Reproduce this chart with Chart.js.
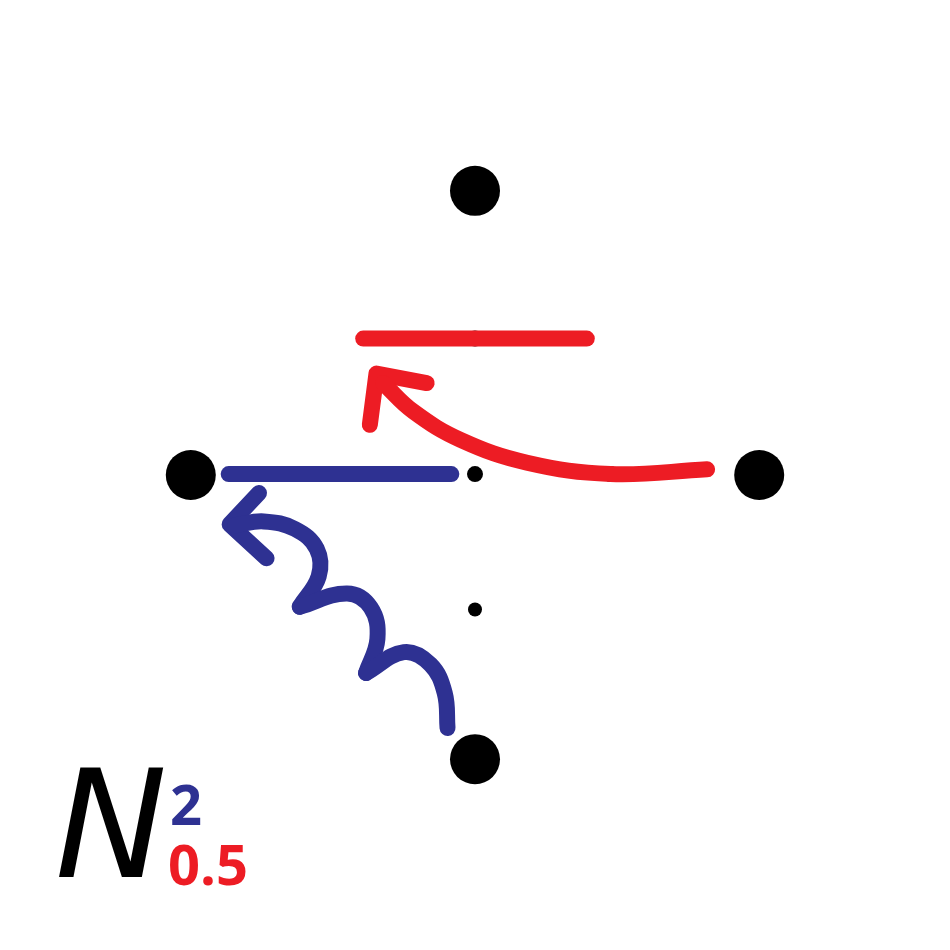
<!DOCTYPE html>
<html><head><meta charset="utf-8">
<script src="https://cdn.jsdelivr.net/npm/chart.js@4"></script>
<style>body{margin:0;background:#fff}</style>
</head><body>
<canvas id="c" width="950" height="950"></canvas>
<script>
const RED = "#ed1c24", BLUE = "#2e3192";
// diagram points in page-like units (0..950, y down)
const bigDots = [{x:475,y:175},{x:175,y:475},{x:775,y:475},{x:475,y:775}];
const midDots = [{x:475,y:331},{x:332,y:474},{x:475,y:474},{x:618,y:474}];
const smallDots = [{x:475,y:617}];
const redBar = [{x:357,y:331},{x:593,y:331}];
const blueBar = [{x:215,y:474},{x:450,y:474}];
const redCurve = [{x:720,y:469},{x:618,y:474},{x:530,y:462},{x:460,y:438},{x:410,y:408},{x:378,y:378}];
const redHead = [{x:364,y:422},{x:371,y:368},{x:424,y:378}];
const blueWave1 = [{x:446,y:742},{x:443,y:705},{x:428,y:675},{x:400,y:662},{x:360,y:684}];
const blueWave2 = [{x:360,y:684},{x:372,y:648},{x:365,y:615},{x:340,y:600},{x:290,y:614}];
const blueWave3 = [{x:290,y:614},{x:310,y:582},{x:308,y:553},{x:285,y:532},{x:252,y:524},{x:222,y:528}];
const blueHead = [{x:247,y:494},{x:216,y:527},{x:255,y:563}];

function line(data, color, tension) {
  return {type:"line", data, borderColor:color, borderWidth:16, pointRadius:0,
    tension, borderCapStyle:"round", borderJoinStyle:"round", fill:false};
}
function dots(data, r) {
  return {type:"scatter", data, backgroundColor:"#000", borderWidth:0, pointRadius:r};
}

new Chart(document.getElementById("c"), {
  data: {datasets: [
    line(redBar, RED, 0), line(blueBar, BLUE, 0),
    line(redCurve, RED, 0.4), line(redHead, RED, 0),
    line(blueWave1, BLUE, 0.4), line(blueWave2, BLUE, 0.4), line(blueWave3, BLUE, 0.4),
    line(blueHead, BLUE, 0),
    dots(bigDots, 25), dots(midDots, 8), dots(smallDots, 7)
  ]},
  options: {
    responsive:false, animation:false,
    layout:{padding:0},
    plugins:{legend:{display:false}, tooltip:{enabled:false}},
    scales:{
      x:{type:"linear", min:0, max:950, display:false},
      y:{type:"linear", min:0, max:950, reverse:true, display:false}
    }
  },
  plugins:[{
    id:"label",
    afterDraw(chart){
      const ctx = chart.ctx;
      ctx.save();
      ctx.fillStyle = "#000";
      ctx.font = "italic 150px 'DejaVu Sans'";
      ctx.textBaseline = "alphabetic";
      ctx.fillText("N", 55, 877);
      ctx.font = "bold 56px 'Open Sans'";
      ctx.fillStyle = BLUE;
      ctx.fillText("2", 170, 825);
      ctx.fillStyle = RED;
      ctx.fillText("0.5", 168, 885);
      ctx.restore();
    }
  }]
});
</script>
</body></html>
